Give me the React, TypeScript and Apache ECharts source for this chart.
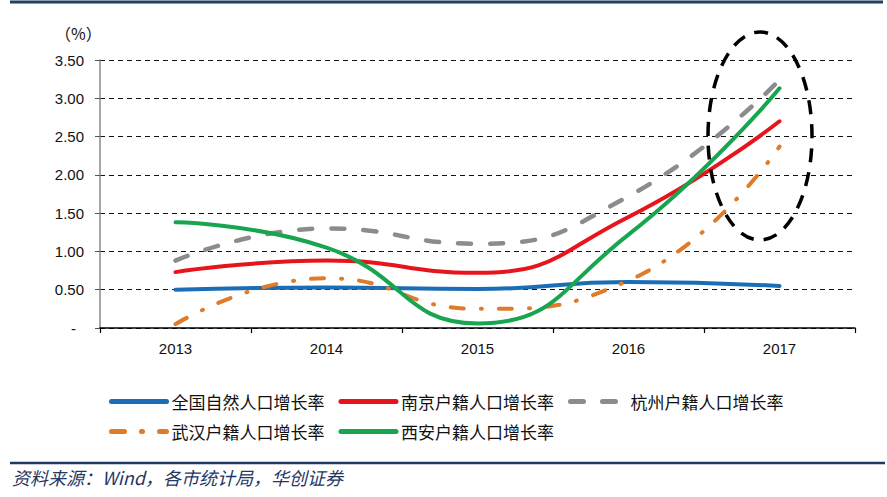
import React, { useEffect, useRef } from "react";
import * as echarts from "echarts";

const categories = ["2013", "2014", "2015", "2016", "2017"];
const yTicks = [0, 0.5, 1, 1.5, 2, 2.5, 3, 3.5];
const seriesNames = [
  "全国自然人口增长率",
  "南京户籍人口增长率",
  "杭州户籍人口增长率",
  "武汉户籍人口增长率",
  "西安户籍人口增长率",
];
const national = [0.5, 0.53, 0.51, 0.6, 0.55];
const nanjing = [0.73, 0.88, 0.72, 1.45, 2.7];
const hangzhou = [0.88, 1.3, 1.1, 1.72, 3.24];
const wuhan = [0.05, 0.65, 0.25, 0.62, 2.37];
const xian = [1.38, 1.05, 0.06, 1.22, 3.13];

const colors = ["#1B6DB5", "#E8141B", "#8C8C8C", "#E07B2A", "#18A550"];

export default function App() {
  const ref = useRef<HTMLDivElement>(null);
  useEffect(() => {
    if (!ref.current) return;
    const chart = echarts.init(ref.current, undefined, { renderer: "svg" });
    const cjk = "'Noto Sans CJK SC', sans-serif";
    const arial = "Arial, 'Liberation Sans', sans-serif";
    const datasets = [national, nanjing, hangzhou, wuhan, xian];
    const lineStyles: any[] = [
      { width: 4, type: "solid", cap: "round" },
      { width: 4, type: "solid", cap: "round" },
      { width: 4.5, type: [13, 19], cap: "round" },
      { width: 4, type: [13, 17, 1, 17], cap: "round" },
      { width: 4, type: "solid", cap: "round" },
    ];
    const legendBase = {
      left: 104,
      itemWidth: 55,
      itemHeight: 14,
      itemGap: 14,
      itemStyle: { opacity: 0 },
      lineStyle: { width: 5 },
      textStyle: { fontFamily: cjk, fontSize: 17, color: "#111" },
    };
    chart.setOption({
      animation: false,
      backgroundColor: "#ffffff",
      grid: { left: 100, right: 32, top: 60, bottom: 169 },
      title: {
        text: "（%）",
        left: 50,
        top: 20,
        textStyle: { fontFamily: cjk, fontSize: 16, fontWeight: "normal", color: "#111" },
      },
      legend: [
        { ...legendBase, data: seriesNames.slice(0, 3), top: 388 },
        { ...legendBase, data: seriesNames.slice(3), top: 418 },
      ],
      xAxis: {
        type: "category",
        data: categories,
        boundaryGap: true,
        axisLine: { lineStyle: { color: "#000", width: 1.5 } },
        axisTick: { show: true, length: 5, lineStyle: { color: "#000", width: 1.2 } },
        axisLabel: { fontFamily: arial, fontSize: 15, color: "#111", margin: 13 },
      },
      yAxis: {
        type: "value",
        min: yTicks[0],
        max: yTicks[yTicks.length - 1],
        interval: 0.5,
        axisLine: { show: true, lineStyle: { color: "#888", width: 1.5 } },
        axisTick: { show: true, length: 5, lineStyle: { color: "#555", width: 1 } },
        axisLabel: {
          fontFamily: arial,
          fontSize: 15,
          color: "#111",
          margin: 16,
          formatter: (v: number) => (v === 0 ? "{d|-}" : v.toFixed(2)),
          rich: { d: { fontFamily: arial, fontSize: 15, color: "#111", padding: [0, 8, 0, 0] } },
        },
        splitLine: { show: true, lineStyle: { color: "#111", width: 1.2, type: [5, 4] } },
      },
      series: seriesNames.map((name, i) => ({
        name,
        type: "line",
        data: datasets[i],
        smooth: 0.5,
        symbol: "none",
        color: colors[i],
        lineStyle: { color: colors[i], ...lineStyles[i] },
        z: i === 4 ? 5 : 3,
      })),
      graphic: [
        {
          type: "line",
          shape: { x1: 10, y1: 2, x2: 883, y2: 2 },
          style: { stroke: "#1F3F5F", lineWidth: 3 },
        },
        {
          type: "ellipse",
          shape: { cx: 760, cy: 136, rx: 52, ry: 104 },
          style: { fill: "none", stroke: "#000", lineWidth: 3.5, lineDash: [14, 10] },
          z: 10,
        },
        {
          type: "line",
          shape: { x1: 10, y1: 463, x2: 885, y2: 463 },
          style: { stroke: "#1F3864", lineWidth: 2.5 },
        },
        {
          type: "text",
          left: 12,
          top: 468,
          style: {
            text: "资料来源：Wind，各市统计局，华创证券",
            fontFamily: cjk,
            fontSize: 18,
            fontStyle: "italic",
            fill: "#1F3864",
          },
        },
      ],
    });
    return () => chart.dispose();
  }, []);
  return (
    <div
      ref={ref}
      style={{ position: "fixed", left: 0, top: 0, width: 887, height: 497 }}
    />
  );
}
